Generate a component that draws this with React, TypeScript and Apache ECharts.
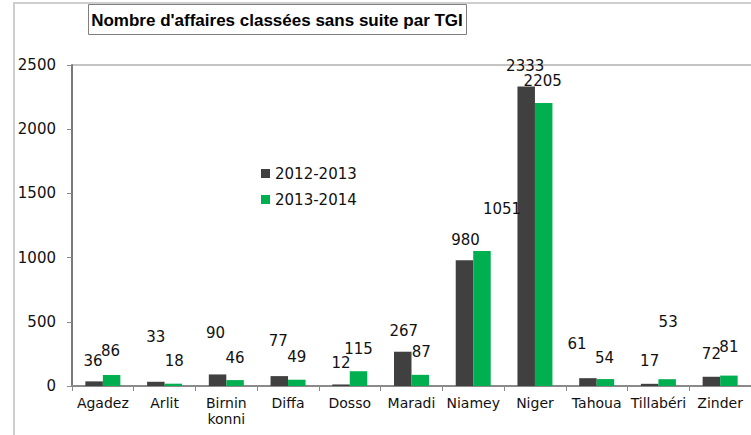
import React, { useEffect, useRef } from "react";
import * as echarts from "echarts";

const categories = ["Agadez", "Arlit", "Birnin\nkonni", "Diffa", "Dosso", "Maradi", "Niamey", "Niger", "Tahoua", "Tillabéri", "Zinder"];
const seriesNames = ["2012-2013", "2013-2014"];
const values2012 = [36, 33, 90, 77, 12, 267, 980, 2333, 61, 17, 72];
const values2013 = [86, 18, 46, 49, 115, 87, 1051, 2205, 54, 53, 81];
const yTicks = [0, 500, 1000, 1500, 2000, 2500];
const titleText = "Nombre d'affaires classées sans suite par TGI";

// label displacement (style only), mimicking the hand-moved labels of the original
const offsets2012: number[][] = [[-1, -8], [0, -32], [-2, -29], [-1, -23], [0, -9], [1, -8], [1, -8], [-1, -8], [-11, -22], [0, -10], [0, -10]];
const offsets2013: number[][] = [[-1, -11], [1, -10], [0, -10], [0, -10], [0, -10], [1, -10], [20, -30], [-1, -9], [-1, -9], [1, -45], [0, -16]];

const LABEL_FONT = "DejaVu Sans";

export default function App() {
  const ref = useRef<HTMLDivElement>(null);
  useEffect(() => {
    document.body.style.margin = "0";
    const chart = echarts.init(ref.current!, null, { renderer: "svg" });
    const mk = (vals: number[], offs: number[][]) =>
      vals.map((v, i) => ({ value: v, label: { offset: offs[i] } }));
    const labelStyle = {
      show: true,
      position: "top" as const,
      distance: 5,
      fontFamily: LABEL_FONT,
      fontSize: 15,
      color: "#111",
    };
    chart.setOption({
      animation: false,
      backgroundColor: "#ffffff",
      grid: { left: 72, top: 65, width: 687, height: 321 },
      legend: {
        data: seriesNames,
        orient: "vertical",
        left: 256,
        top: 161,
        itemWidth: 9,
        itemHeight: 9,
        itemGap: 11,
        icon: "rect",
        textStyle: { fontFamily: LABEL_FONT, fontSize: 15, color: "#111" },
      },
      xAxis: {
        type: "category",
        data: categories,
        axisLine: { lineStyle: { color: "#8a8a8a", width: 2 } },
        axisTick: { show: true, length: 5, lineStyle: { color: "#8a8a8a", width: 1 } },
        axisLabel: {
          interval: 0,
          margin: 9,
          fontFamily: LABEL_FONT,
          fontSize: 14,
          lineHeight: 16,
          color: "#111",
        },
      },
      yAxis: {
        type: "value",
        min: yTicks[0],
        max: yTicks[yTicks.length - 1],
        interval: 500,
        axisLine: { show: true, lineStyle: { color: "#7a7a7a", width: 2 } },
        axisTick: { show: true, length: 5, lineStyle: { color: "#8a8a8a" } },
        axisLabel: {
          margin: 16,
          fontFamily: LABEL_FONT,
          fontSize: 15,
          color: "#111",
          formatter: (v: number) => String(v),
        },
        splitLine: {
          show: true,
          lineStyle: { color: ["transparent", "transparent", "transparent", "transparent", "transparent", "#c4c4c4"], width: 2 },
        },
      },
      series: [
        {
          name: seriesNames[0],
          type: "bar",
          data: mk(values2012, offsets2012),
          barWidth: 17.5,
          barGap: "0%",
          itemStyle: { color: "#404040" },
          label: labelStyle,
        },
        {
          name: seriesNames[1],
          type: "bar",
          data: mk(values2013, offsets2013),
          barWidth: 17.5,
          barGap: "0%",
          itemStyle: { color: "#00b050" },
          label: labelStyle,
        },
      ],
      graphic: [
        { type: "line", shape: { x1: 14, y1: 3, x2: 14, y2: 435 }, style: { stroke: "#cfcfcf", lineWidth: 2 } },
        { type: "line", shape: { x1: 13, y1: 3, x2: 751, y2: 3 }, style: { stroke: "#cfcfcf", lineWidth: 2 } },
        {
          type: "rect",
          shape: { x: 88.5, y: 4.5, width: 378, height: 30 },
          style: { fill: "#ffffff", stroke: "#7f7f7f", lineWidth: 1 },
        },
        {
          type: "text",
          x: 277,
          y: 20,
          style: {
            text: titleText,
            fontFamily: "Liberation Sans",
            fontWeight: "bold",
            fontSize: 17,
            fill: "#000",
            align: "center",
            verticalAlign: "middle",
          },
        },
      ],
    });
    return () => chart.dispose();
  }, []);
  return <div ref={ref} style={{ position: "absolute", left: 0, top: 0, width: 751, height: 435 }} />;
}
